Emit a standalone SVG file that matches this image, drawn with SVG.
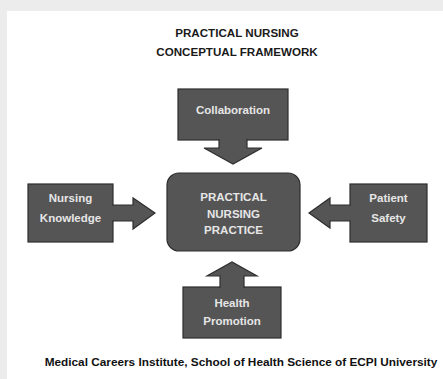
<svg xmlns="http://www.w3.org/2000/svg" width="443" height="379" viewBox="0 0 443 379">
  <style>
    .box { fill: #555555; stroke: #2e2e2e; stroke-width: 1.2; }
    .arrow { fill: #555555; stroke: #2e2e2e; stroke-width: 1.2; stroke-linejoin: miter; }
    .lbl { font-family: "Liberation Sans", Arial, sans-serif; font-weight: bold; font-size: 11.5px; fill: #e6e6e6; text-anchor: middle; }
    .title { font-family: "Liberation Sans", Arial, sans-serif; font-weight: bold; font-size: 11.6px; fill: #1a1a1a; text-anchor: middle; }
    .foot { font-family: "Liberation Sans", Arial, sans-serif; font-weight: bold; font-size: 11.8px; fill: #111; text-anchor: middle; }
  </style>
  <rect x="0" y="0" width="443" height="379" fill="#ececec"/>
  <rect x="7" y="11" width="436" height="368" fill="#ffffff"/>

  <g id="title">
    <text class="title" x="237" y="37">PRACTICAL NURSING</text>
    <text class="title" x="237" y="56">CONCEPTUAL FRAMEWORK</text>
  </g>

  <g id="node-collaboration">
    <rect class="box" x="178" y="89" width="110" height="51"/>
    <text class="lbl" x="233" y="114">Collaboration</text>
  </g>

  <g id="node-nursing-knowledge">
    <rect class="box" x="28" y="184" width="85" height="58"/>
    <text class="lbl" x="70.5" y="202">Nursing</text>
    <text class="lbl" x="70.5" y="222">Knowledge</text>
  </g>

  <g id="node-patient-safety">
    <rect class="box" x="350" y="184" width="77" height="58"/>
    <text class="lbl" x="388.5" y="202">Patient</text>
    <text class="lbl" x="388.5" y="222">Safety</text>
  </g>

  <g id="node-health-promotion">
    <rect class="box" x="183" y="287" width="98" height="51"/>
    <text class="lbl" x="232" y="307">Health</text>
    <text class="lbl" x="232" y="325">Promotion</text>
  </g>

  <g id="node-center">
    <rect class="box" x="167" y="173" width="133" height="78" rx="12" ry="12"/>
    <text class="lbl" x="233.5" y="201">PRACTICAL</text>
    <text class="lbl" x="233.5" y="217.5">NURSING</text>
    <text class="lbl" x="233.5" y="234">PRACTICE</text>
  </g>

  <g id="connectors">
    <path class="arrow" d="M219,139 L219,148 L204,148 L233,164 L262,148 L247,148 L247,139"/>
    <path class="arrow" d="M112,205 L133,205 L133,198 L155,213 L133,229 L133,221 L112,221"/>
    <path class="arrow" d="M351,205 L330,205 L330,198 L309,213 L330,228 L330,221 L351,221"/>
    <path class="arrow" d="M220,288 L220,276 L207,276 L232,262 L257,276 L244,276 L244,288"/>
  </g>

  <g id="footer">
    <text class="foot" x="241" y="366">Medical Careers Institute, School of Health Science of ECPI University</text>
  </g>
</svg>
